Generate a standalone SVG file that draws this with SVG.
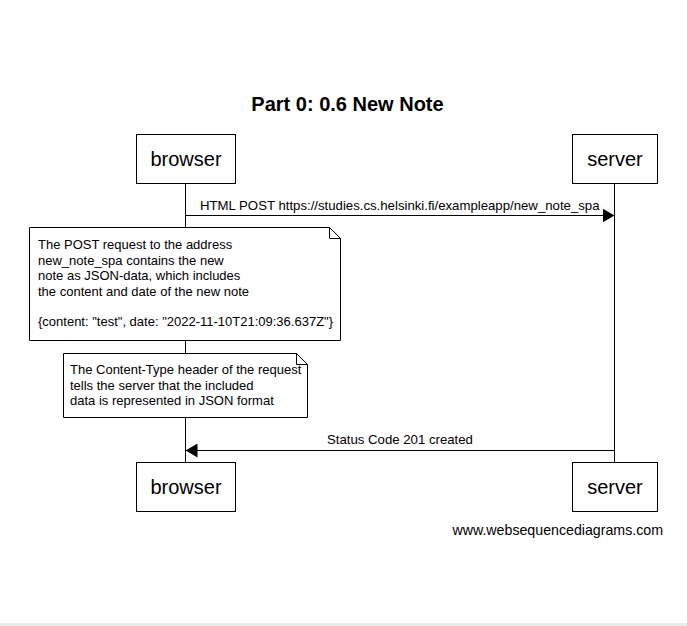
<svg xmlns="http://www.w3.org/2000/svg" width="687" height="626" viewBox="0 0 687 626">
<style>
text{font-family:"Liberation Sans",Arial,sans-serif;fill:#000}
.box{fill:#fff;stroke:#000;stroke-width:1}
.actor{font-size:20px;text-anchor:middle}
.msg{font-size:13.2px}
.note{font-size:13px}
.line{stroke:#000;stroke-width:1;fill:none}
</style>
<defs>
<marker id="ah" viewBox="0 0 12 14" refX="12" refY="7" markerWidth="12" markerHeight="14" markerUnits="userSpaceOnUse" orient="auto">
<path d="M0,0 L12,7 L0,14 Z" fill="#000"/>
</marker>
</defs>
<rect width="687" height="626" fill="#fff"/>
<rect x="0" y="623" width="687" height="3" fill="#ebebeb"/>
<text x="347.5" y="111" font-size="20" font-weight="bold" text-anchor="middle">Part 0: 0.6 New Note</text>
<g id="connectors">
<line class="line" x1="185.5" y1="183" x2="185.5" y2="462"/>
<line class="line" x1="614.5" y1="183" x2="614.5" y2="462"/>
<line class="line" x1="185.5" y1="215.5" x2="614.5" y2="215.5" marker-end="url(#ah)"/>
<text class="msg" x="200" y="210">HTML POST https://studies.cs.helsinki.fi/exampleapp/new_note_spa</text>
<line class="line" x1="614.5" y1="450.5" x2="185.5" y2="450.5" marker-end="url(#ah)"/>
<text class="msg" x="400" y="444" text-anchor="middle">Status Code 201 created</text>
</g>
<g id="browser-top">
<rect class="box" x="136.5" y="134.5" width="99" height="49"/>
<text class="actor" x="186" y="166">browser</text>
</g>
<g id="server-top">
<rect class="box" x="572.5" y="134.5" width="85" height="49"/>
<text class="actor" x="615" y="166">server</text>
</g>
<g id="note1">
<path class="box" d="M29.5,227.5 H329.5 L340.5,238.5 V340.5 H29.5 Z"/>
<path class="line" d="M329.5,227.5 V238.5 H340.5"/>
<text class="note" x="38" y="249">The POST request to the address</text>
<text class="note" x="38" y="264.5">new_note_spa contains the new</text>
<text class="note" x="38" y="280">note as JSON-data, which includes</text>
<text class="note" x="38" y="295.5">the content and date of the new note</text>
<text class="note" x="38" y="326">{content: "test", date: "2022-11-10T21:09:36.637Z"}</text>
</g>
<g id="note2">
<path class="box" d="M63.5,353.5 H296.5 L307.5,364.5 V417.5 H63.5 Z"/>
<path class="line" d="M296.5,353.5 V364.5 H307.5"/>
<text class="note" x="70" y="374">The Content-Type header of the request</text>
<text class="note" x="70" y="389.5">tells the server that the included</text>
<text class="note" x="70" y="405">data is represented in JSON format</text>
</g>
<g id="browser-bottom">
<rect class="box" x="136.5" y="462.5" width="99" height="49"/>
<text class="actor" x="186" y="494">browser</text>
</g>
<g id="server-bottom">
<rect class="box" x="572.5" y="462.5" width="85" height="49"/>
<text class="actor" x="615" y="494">server</text>
</g>
<text x="663" y="535" font-size="14.2" text-anchor="end">www.websequencediagrams.com</text>
</svg>
